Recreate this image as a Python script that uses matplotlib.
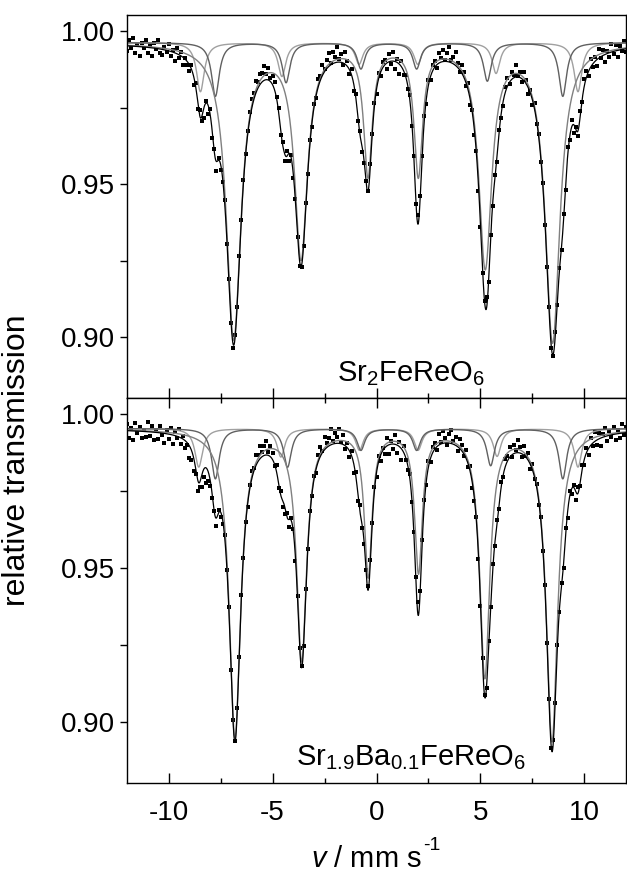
import numpy as np
import matplotlib.pyplot as plt
from matplotlib.ticker import MultipleLocator, FormatStrFormatter

plt.rcParams['font.family'] = ['Liberation Sans', 'DejaVu Sans']
plt.rcParams['mathtext.fontset'] = 'custom'
plt.rcParams['mathtext.rm'] = 'Liberation Sans'
plt.rcParams['mathtext.it'] = 'Liberation Sans:italic'
plt.rcParams['axes.unicode_minus'] = False

# velocity channels (mm/s): -12.0 ... 12.0 in steps of 0.1
v_first, v_step, n_chan = -12.0, 0.1, 241

# measured spectra, absorption (1 - transmission) in units of 1e-4, one value per channel
top_abs_1e4 = [
    64, 29, 57, 22, 72, 46, 81, 40, 56, 28,
    72, 46, 81, 40, 59, 28, 71, 80, 52, 68,
    43, 81, 63, 99, 56, 87, 68, 110, 88, 110,
    131, 110, 177, 171, 256, 258, 294, 285, 230, 271,
    255, 351, 384, 456, 414, 455,
    492, 552, 694, 808, 953, 1034, 994, 901, 733, 618, 485,
    402, 325, 265, 222, 202, 162, 168, 139, 138, 116, 139, 122, 153, 146, 168, 215, 250, 340, 362,
    425, 393, 424, 406,
    481, 547, 672, 766, 772, 701, 561, 467, 356, 312, 238,
    219, 157, 146, 110, 123, 94, 71, 106, 69, 84, 52, 90, 74, 110, 69, 98,
    142, 124, 196, 205, 295, 325, 395,
    430, 490, 522, 433, 336,
    235, 206, 138, 146, 100,
    96, 124, 76, 109, 69, 125, 93, 139, 97, 145, 143,
    189, 209, 309, 409,
    565, 600, 540, 408,
    279, 238, 161, 159, 111,
    99, 121, 71, 87, 61, 95, 71, 52, 95, 84, 69, 105, 134, 110, 133, 181, 170, 241, 258,
    340, 392, 521,
    639, 790, 880, 868, 820, 667,
    571, 469, 429, 323, 284,
    245, 182, 152, 174, 135, 144, 112, 146, 133, 167, 134, 159, 206, 194, 241, 235, 304,
    336, 429, 497, 633,
    769, 902, 1034, 1060, 982, 893, 775,
    714, 598, 518, 378, 357, 291, 332, 314, 344, 261, 231, 158,
    130, 147, 93, 118, 85, 114, 58, 89, 62, 102, 64, 86, 41, 75, 45, 85, 50, 67, 34, 70,
]

bot_abs_1e4 = [
    34, 79, 45, 85, 30, 63, 41, 78, 52, 75,
    27, 70, 40, 85, 52, 80, 39, 67, 93, 52,
    80, 47, 96, 60, 77, 50, 96, 70, 109, 102,
    143, 148, 186, 196, 249, 236, 237, 203, 225, 216, 235, 273, 314, 363, 311, 333,
    356, 392, 506, 627, 831, 992, 1062, 954, 788, 588, 468,
    352, 302, 230, 185, 176, 132, 134, 105, 123, 104, 88, 124, 104, 128, 169, 165, 239, 250, 303,
    326, 320, 367, 336,
    373, 478, 590, 760, 818, 753, 568, 439, 315, 267, 201,
    192, 134, 107, 120, 76, 94, 79, 50, 88, 61, 75, 50, 92, 69, 113, 95,
    140, 120, 190, 189, 281, 295, 371,
    423, 505, 560, 473, 355,
    237, 205, 135, 151, 109,
    130, 79, 130, 88, 112, 69, 126, 91, 148, 104, 150,
    181, 196, 287, 383,
    530, 610, 575, 408,
    280, 230, 151, 155, 108,
    94, 116, 66, 92, 55, 79, 99, 64, 51, 88, 76, 121, 82, 99, 135, 118, 171, 170, 240,
    282, 335, 471,
    624, 792, 913, 889, 738, 625,
    488, 429, 343, 310, 220,
    206, 145, 137, 106, 138, 99, 116, 85, 107, 139, 104, 136, 126, 179, 161, 210, 227,
    296, 334, 446, 554,
    745, 926, 1085, 1060, 937, 749, 642,
    548, 500, 370, 337, 249, 261, 229, 279, 236, 235, 167, 166,
    110, 132, 77, 105, 59, 99, 61, 103, 65, 45, 89, 54, 76, 41, 85, 52, 78, 32, 67, 43,
]

# Sr2FeReO6 fit: sextet line positions (mm/s), depths, widths
top_base = 0.9962
top_main_pos = [-6.87, -3.63, -0.41, 2.01, 5.23, 8.47]
top_main_depth = [0.096, 0.069, 0.042, 0.042, 0.072, 0.097]
top_main_width = [0.85, 0.75, 0.5, 0.5, 0.75, 0.85]
top_s2_pos = [-7.75, -4.35, -0.75, 1.93, 5.33, 8.96]
top_s2_depth = [0.0175, 0.013, 0.0085, 0.0085, 0.0125, 0.0175]
top_s3_pos = [-8.47, -4.55, -0.84, 1.98, 5.75, 9.69]
top_s3_depth = [0.016, 0.011, 0.007, 0.007, 0.010, 0.016]

# Sr1.9Ba0.1FeReO6 fit
bot_base = 0.9953
bot_main_pos = [-6.81, -3.60, -0.40, 2.02, 5.21, 8.44]
bot_main_depth = [0.0997, 0.0743, 0.047, 0.0457, 0.0798, 0.101]
bot_main_width = [0.66, 0.58, 0.45, 0.45, 0.58, 0.66]
bot_s2_pos = [-7.75, -4.28, -0.75, 1.93, 5.49, 8.96]
bot_s2_depth = [0.0163, 0.0125, 0.007, 0.007, 0.012, 0.0163]
bot_s3_pos = [-8.55, -4.60, -0.82, 2.00, 5.80, 9.69]
bot_s3_depth = [0.0125, 0.0092, 0.007, 0.007, 0.009, 0.0125]
gray_width = 0.45

v_data = v_first + v_step * np.arange(n_chan)


def absorb(v, pos, depth, width):
    a = np.zeros_like(v)
    for p, d, w in zip(pos, depth, width):
        a += d / (1 + (2 * (v - p) / w) ** 2)
    return a


def panel(ax, data, base, mpos, mdep, mwid, s2pos, s2dep, s3pos, s3dep, label):
    v = np.linspace(-12, 12, 3000)
    gw = [gray_width] * 6
    a1 = absorb(v, mpos, mdep, mwid)
    a2 = absorb(v, s2pos, s2dep, gw)
    a3 = absorb(v, s3pos, s3dep, gw)
    ax.plot(v_data, 1 - np.array(data) * 1e-4, 's', color='black', ms=3, mew=0)
    ax.plot(v, base - a3, color='#a0a0a0', lw=1)
    ax.plot(v, base - a2, color='#606060', lw=1)
    ax.plot(v, base - a1, color='#808080', lw=1)
    ax.plot(v, base - a1 - a2 - a3, color='black', lw=0.9)
    ax.set_xlim(-12, 12)
    ax.set_ylim(0.8802, 1.0052)
    ax.yaxis.set_major_locator(MultipleLocator(0.05))
    ax.yaxis.set_minor_locator(MultipleLocator(0.025))
    ax.yaxis.set_major_formatter(FormatStrFormatter('%.2f'))
    ax.xaxis.set_major_locator(MultipleLocator(5))
    ax.xaxis.set_minor_locator(MultipleLocator(2.5))
    ax.tick_params(axis='y', which='both', direction='out', length=5, width=1, labelsize=20, right=False)
    ax.tick_params(axis='x', which='major', direction='in', length=7, width=1, labelsize=20, pad=12)
    ax.tick_params(axis='x', which='minor', direction='in', length=3.5, width=1)
    for s in ax.spines.values():
        s.set_linewidth(1)
    ax.text(0.57, 0.045, label, transform=ax.transAxes, ha='center', va='baseline', fontsize=21)


fig = plt.figure(figsize=(6.27, 8.73), dpi=100)
ax1 = fig.add_axes([0.2026, 0.5441, 0.7958, 0.4387])
ax2 = fig.add_axes([0.2026, 0.1031, 0.7958, 0.4410])

panel(ax1, top_abs_1e4, top_base, top_main_pos, top_main_depth, top_main_width,
      top_s2_pos, top_s2_depth, top_s3_pos, top_s3_depth, r'Sr$_2$FeReO$_6$')
panel(ax2, bot_abs_1e4, bot_base, bot_main_pos, bot_main_depth, bot_main_width,
      bot_s2_pos, bot_s2_depth, bot_s3_pos, bot_s3_depth, r'Sr$_{1.9}$Ba$_{0.1}$FeReO$_6$')

ax1.tick_params(axis='x', which='both', labelbottom=False)
ax2.tick_params(axis='x', which='both', top=True)

# x label, superscript written with a plain hyphen as in the original
xl = fig.text(311 / 627, 1 - 867 / 873, r'$v$ / mm s', fontsize=21, ha='left', va='baseline')
fig.canvas.draw()
bb = xl.get_window_extent()
fig.text((bb.x1 + 1) / fig.bbox.width, 1 - 850 / 873, '-1', fontsize=14, ha='left', va='baseline')
fig.text(0.027, 0.473, 'relative transmission', rotation=90, ha='center', va='center', fontsize=23)

fig.savefig('out.png', dpi=100)
